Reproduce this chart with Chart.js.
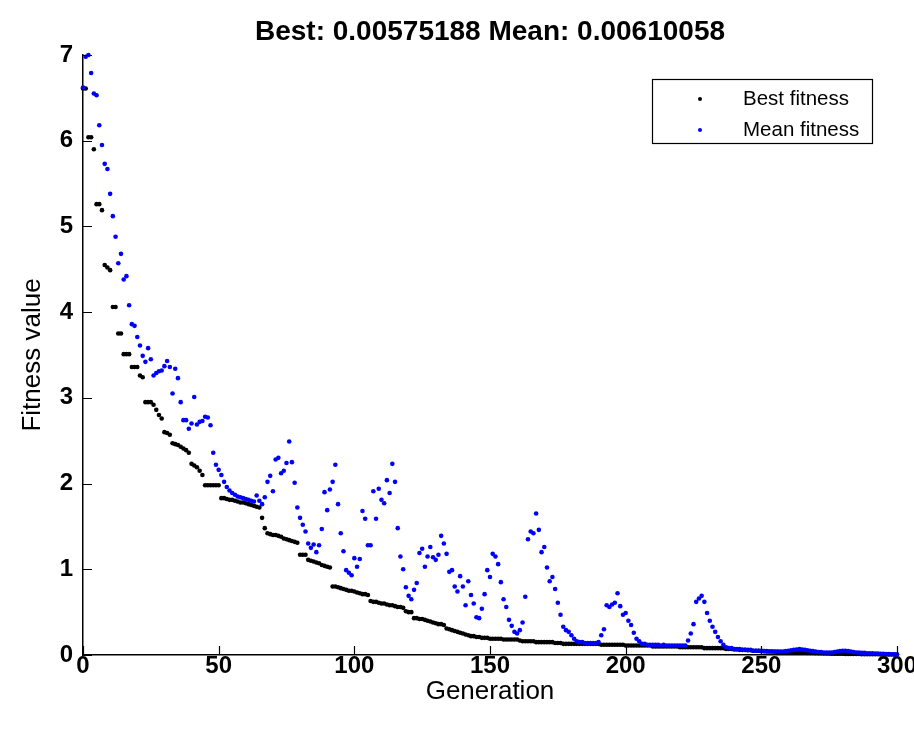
<!DOCTYPE html>
<html>
<head>
<meta charset="utf-8">
<script src="https://cdn.jsdelivr.net/npm/chart.js@4.4.1/dist/chart.umd.min.js"></script>
<style>
  html, body { margin: 0; padding: 0; background: #ffffff; }
  #wrap { width: 914px; height: 734px; }
</style>
</head>
<body>
<div id="wrap"><canvas id="c" width="914" height="734"></canvas></div>
<script>
const titleText = 'Best: 0.00575188 Mean: 0.00610058';
const xAxisTitle = 'Generation';
const yAxisTitle = 'Fitness value';
const seriesNames = ['Best fitness', 'Mean fitness'];
const xTicks = [0, 50, 100, 150, 200, 250, 300];
const yTicks = [0, 1, 2, 3, 4, 5, 6, 7];

// Best fitness per generation (0..300)
const bestFitness = [
  6.61, 6.61, 6.04, 6.04, 5.90, 5.26, 5.26, 5.19, 4.55, 4.52,
  4.49, 4.06, 4.06, 3.75, 3.75, 3.51, 3.51, 3.51, 3.36, 3.36,
  3.36, 3.26, 3.24, 2.95, 2.95, 2.95, 2.92, 2.86, 2.80, 2.76,
  2.60, 2.59, 2.57, 2.47, 2.46, 2.45, 2.43, 2.41, 2.39, 2.36,
  2.23, 2.21, 2.19, 2.15, 2.10, 1.98, 1.98, 1.98, 1.98, 1.98,
  1.98, 1.83, 1.83, 1.82, 1.81, 1.81, 1.80, 1.79, 1.78, 1.78,
  1.77, 1.76, 1.75, 1.74, 1.73, 1.72, 1.60, 1.48, 1.42, 1.41,
  1.40, 1.40, 1.39, 1.38, 1.36, 1.35, 1.34, 1.33, 1.32, 1.31,
  1.17, 1.17, 1.17, 1.11, 1.10, 1.09, 1.08, 1.07, 1.05, 1.04,
  1.03, 1.02, 0.80, 0.80, 0.79, 0.78, 0.77, 0.76, 0.75, 0.75,
  0.74, 0.73, 0.72, 0.71, 0.71, 0.70, 0.63, 0.62, 0.62, 0.61,
  0.60, 0.60, 0.59, 0.58, 0.58, 0.57, 0.56, 0.56, 0.55, 0.51,
  0.50, 0.50, 0.43, 0.43, 0.42, 0.42, 0.41, 0.40, 0.39, 0.38,
  0.37, 0.36, 0.36, 0.35, 0.31, 0.30, 0.29, 0.28, 0.27, 0.26,
  0.25, 0.24, 0.23, 0.22, 0.22, 0.21, 0.21, 0.20, 0.20, 0.20,
  0.19, 0.19, 0.19, 0.19, 0.19, 0.18, 0.18, 0.18, 0.18, 0.18,
  0.18, 0.17, 0.16, 0.16, 0.16, 0.16, 0.16, 0.15, 0.15, 0.15,
  0.15, 0.15, 0.15, 0.15, 0.14, 0.14, 0.14, 0.13, 0.13, 0.13,
  0.13, 0.13, 0.13, 0.13, 0.13, 0.13, 0.13, 0.13, 0.13, 0.13,
  0.13, 0.12, 0.12, 0.12, 0.12, 0.12, 0.12, 0.12, 0.12, 0.12,
  0.11, 0.11, 0.11, 0.11, 0.11, 0.11, 0.11, 0.11, 0.11, 0.11,
  0.10, 0.10, 0.10, 0.10, 0.10, 0.10, 0.10, 0.10, 0.10, 0.10,
  0.09, 0.09, 0.09, 0.09, 0.09, 0.09, 0.09, 0.09, 0.09, 0.08,
  0.08, 0.08, 0.08, 0.08, 0.08, 0.08, 0.08, 0.07, 0.07, 0.07,
  0.065, 0.065, 0.06, 0.06, 0.06, 0.055, 0.055, 0.05, 0.05, 0.05,
  0.045, 0.045, 0.04, 0.04, 0.04, 0.038, 0.036, 0.035, 0.034, 0.033,
  0.032, 0.031, 0.030, 0.029, 0.028, 0.027, 0.026, 0.025, 0.024, 0.023,
  0.022, 0.021, 0.020, 0.019, 0.018, 0.017, 0.016, 0.015, 0.015, 0.014,
  0.014, 0.013, 0.013, 0.012, 0.012, 0.011, 0.011, 0.010, 0.010, 0.009,
  0.009, 0.008, 0.008, 0.008, 0.007, 0.007, 0.007, 0.006, 0.006, 0.006,
  0.00575188
];

// Mean fitness per generation (0..300)
const meanFitness = [
  6.62, 6.98, 7.00, 6.79, 6.55, 6.53, 6.18, 5.95, 5.73, 5.67,
  5.38, 5.12, 4.88, 4.57, 4.68, 4.38, 4.42, 4.08, 3.86, 3.84,
  3.71, 3.61, 3.49, 3.42, 3.58, 3.45, 3.26, 3.29, 3.31, 3.32,
  3.37, 3.43, 3.36, 3.05, 3.34, 3.23, 2.95, 2.74, 2.74, 2.64,
  2.70, 3.01, 2.69, 2.72, 2.73, 2.78, 2.77, 2.68, 2.36, 2.22,
  2.16, 2.10, 2.02, 1.96, 1.92, 1.89, 1.87, 1.85, 1.84, 1.83,
  1.82, 1.81, 1.80, 1.79, 1.86, 1.80, 1.76, 1.84, 2.02, 2.09,
  1.91, 2.28, 2.30, 2.12, 2.15, 2.24, 2.49, 2.25, 2.01, 1.72,
  1.60, 1.52, 1.44, 1.30, 1.25, 1.29, 1.20, 1.28, 1.47, 1.90,
  1.69, 1.93, 2.02, 2.22, 1.76, 1.42, 1.21, 0.99, 0.96, 0.93,
  1.13, 1.03, 1.12, 1.68, 1.59, 1.28, 1.28, 1.91, 1.59, 1.94,
  1.81, 1.77, 2.04, 1.89, 2.23, 2.02, 1.48, 1.15, 1.00, 0.79,
  0.69, 0.65, 0.76, 0.84, 1.19, 1.24, 1.03, 1.15, 1.26, 1.14,
  1.11, 1.17, 1.39, 1.30, 1.18, 0.97, 0.99, 0.80, 0.74, 0.92,
  0.80, 0.58, 0.86, 0.70, 0.60, 0.44, 0.43, 0.54, 0.71, 0.99,
  0.91, 1.18, 1.15, 1.06, 0.85, 0.65, 0.56, 0.41, 0.34, 0.27,
  0.25, 0.29, 0.38, 0.68, 1.35, 1.44, 1.42, 1.65, 1.46, 1.20,
  1.26, 1.02, 0.86, 0.91, 0.77, 0.61, 0.47, 0.33, 0.29, 0.27,
  0.23, 0.19, 0.16, 0.15, 0.15, 0.14, 0.14, 0.14, 0.14, 0.14,
  0.15, 0.23, 0.30, 0.58, 0.56, 0.59, 0.61, 0.72, 0.57, 0.47,
  0.49, 0.40, 0.35, 0.26, 0.19, 0.16, 0.13, 0.13, 0.12, 0.12,
  0.12, 0.12, 0.12, 0.11, 0.12, 0.11, 0.11, 0.11, 0.11, 0.11,
  0.11, 0.11, 0.11, 0.17, 0.25, 0.36, 0.62, 0.66, 0.69, 0.62,
  0.49, 0.40, 0.33, 0.27, 0.21, 0.16, 0.12, 0.09, 0.08, 0.08,
  0.07, 0.07, 0.07, 0.06, 0.06, 0.06, 0.06, 0.05, 0.05, 0.05,
  0.05, 0.045, 0.045, 0.04, 0.04, 0.04, 0.04, 0.04, 0.04, 0.045,
  0.05, 0.055, 0.06, 0.065, 0.07, 0.065, 0.06, 0.055, 0.05, 0.045,
  0.04, 0.035, 0.035, 0.03, 0.03, 0.03, 0.03, 0.035, 0.04, 0.045,
  0.05, 0.05, 0.045, 0.04, 0.035, 0.03, 0.03, 0.025, 0.025, 0.02,
  0.02, 0.02, 0.018, 0.016, 0.015, 0.013, 0.012, 0.01, 0.008, 0.007,
  0.00610058
];

const seriesColors = ['#000000', '#0000ff'];
const FONT = "'Liberation Sans', Arial, sans-serif";

// Inward tick marks (MATLAB style)
const inwardTicks = {
  id: 'inwardTicks',
  afterDatasetsDraw(chart) {
    const { ctx, chartArea: a, scales: { x, y } } = chart;
    ctx.save();
    ctx.strokeStyle = '#000';
    ctx.lineWidth = 1.2;
    ctx.beginPath();
    xTicks.forEach(v => {
      const px = Math.round(x.getPixelForValue(v)) + 0.5;
      ctx.moveTo(px, a.bottom);
      ctx.lineTo(px, a.bottom - 9);
    });
    yTicks.forEach(v => {
      const py = Math.round(y.getPixelForValue(v)) + 0.5;
      ctx.moveTo(a.left, py);
      ctx.lineTo(a.left + 9, py);
    });
    ctx.stroke();
    ctx.restore();
  }
};

// MATLAB-like boxed legend inside the axes
const boxLegend = {
  id: 'boxLegend',
  afterDraw(chart) {
    const { ctx, chartArea: a } = chart;
    const bw = 220, bh = 64;
    const bx = a.right - 245, by = a.top + 24;
    ctx.save();
    ctx.fillStyle = '#fff';
    ctx.fillRect(bx, by, bw, bh);
    ctx.strokeStyle = '#000';
    ctx.lineWidth = 1.2;
    ctx.strokeRect(bx + 0.5, by + 0.5, bw, bh);
    ctx.font = '20.5px ' + FONT;
    ctx.textBaseline = 'middle';
    ctx.textAlign = 'left';
    const rows = [by + 20, by + 51];
    seriesNames.forEach((name, i) => {
      ctx.fillStyle = seriesColors[i];
      ctx.beginPath();
      ctx.arc(bx + 48, rows[i], 2, 0, Math.PI * 2);
      ctx.fill();
      ctx.fillStyle = '#000';
      ctx.fillText(name, bx + 91, rows[i]);
    });
    ctx.restore();
  }
};

const toPoints = arr => arr.map((v, i) => ({ x: i, y: v }));

new Chart(document.getElementById('c'), {
  type: 'scatter',
  data: {
    datasets: [
      {
        label: seriesNames[1],
        data: toPoints(meanFitness),
        backgroundColor: seriesColors[1],
        borderColor: seriesColors[1],
        pointRadius: 2.3,
        borderWidth: 0,
        showLine: false,
        clip: false,
        order: 0
      },
      {
        label: seriesNames[0],
        data: toPoints(bestFitness),
        backgroundColor: seriesColors[0],
        borderColor: seriesColors[0],
        pointRadius: 2.3,
        borderWidth: 0,
        showLine: false,
        clip: false,
        order: 1
      }
    ]
  },
  options: {
    responsive: false,
    animation: false,
    devicePixelRatio: 1,
    layout: { padding: { left: 0, right: 17, top: 0, bottom: 0 } },
    plugins: {
      legend: { display: false },
      tooltip: { enabled: false },
      title: {
        display: true,
        fullSize: false,
        text: titleText,
        color: '#000',
        font: { family: FONT, size: 28, weight: 'bold' },
        padding: { top: 15, bottom: 6.4 }
      }
    },
    scales: {
      x: {
        type: 'linear',
        min: 0,
        max: 300,
        afterBuildTicks: s => { s.ticks = xTicks.map(v => ({ value: v })); },
        afterFit: s => { s.height = 79; s.paddingLeft = 0; s.paddingRight = 0; },
        grid: { display: true, drawOnChartArea: false, drawTicks: false },
        border: { display: true, color: '#000', width: 1.5 },
        ticks: {
          color: '#000',
          font: { family: FONT, size: 24, weight: 'bold' },
          padding: -3,
          maxRotation: 0,
          autoSkip: false
        },
        title: {
          display: true,
          text: xAxisTitle,
          color: '#000',
          font: { family: FONT, size: 26 },
          padding: { top: 0, bottom: 27 }
        }
      },
      y: {
        type: 'linear',
        min: 0,
        max: 7,
        afterBuildTicks: s => { s.ticks = yTicks.map(v => ({ value: v })); },
        afterFit: s => { s.width = 83; s.paddingTop = 0; s.paddingBottom = 0; },
        grid: { display: true, drawOnChartArea: false, drawTicks: false },
        border: { display: true, color: '#000', width: 1.5 },
        ticks: {
          color: '#000',
          font: { family: FONT, size: 24, weight: 'bold' },
          padding: 10
        },
        title: {
          display: true,
          text: yAxisTitle,
          color: '#000',
          font: { family: FONT, size: 26 },
          padding: { top: 17, bottom: 0 }
        }
      }
    }
  },
  plugins: [inwardTicks, boxLegend]
});
</script>
</body>
</html>
